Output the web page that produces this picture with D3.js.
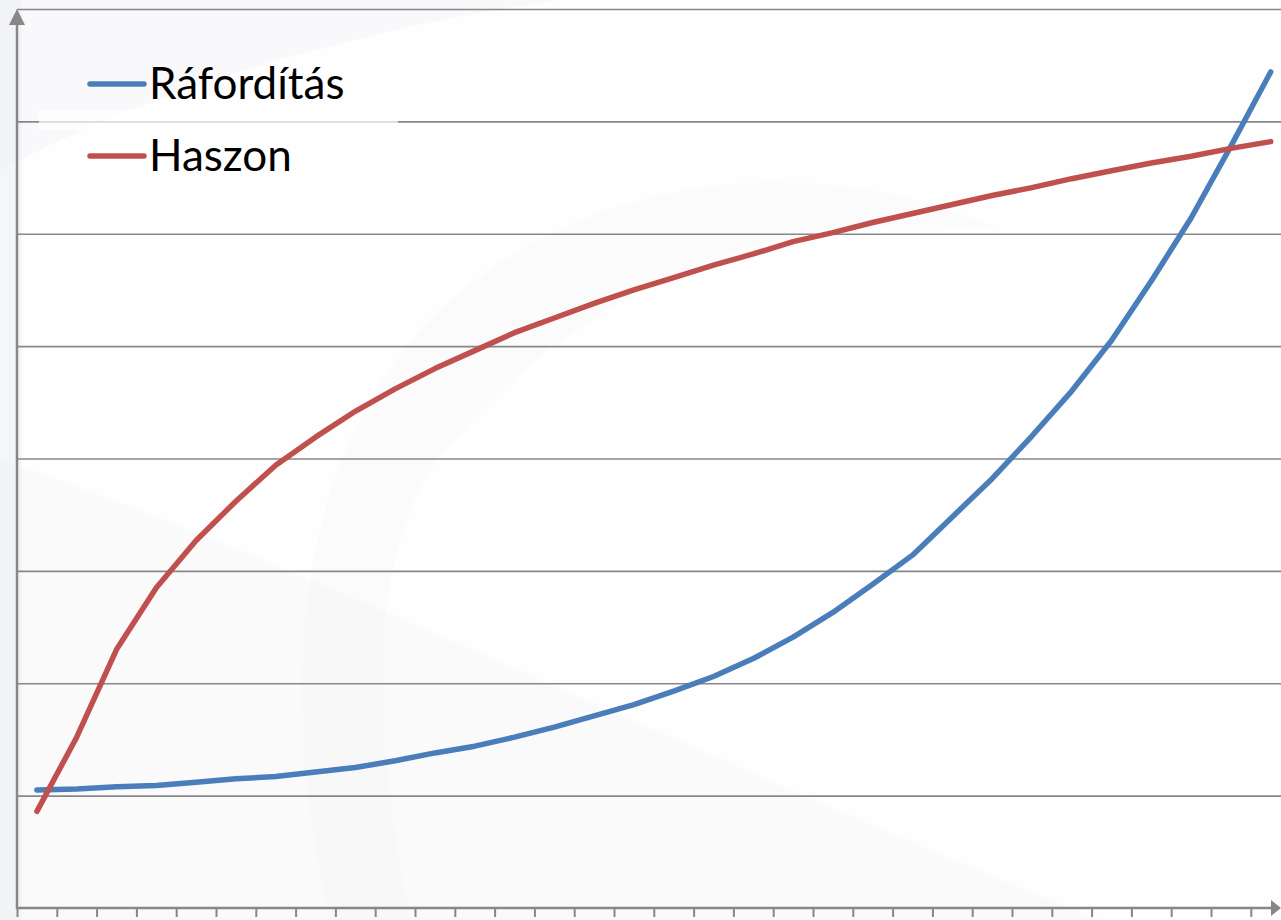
<!DOCTYPE html>
<html lang="hu">
<head>
    <meta charset="UTF-8">
    <title>Ráfordítás és haszon</title>
    <script src="https://cdn.jsdelivr.net/npm/d3@7"></script>
    <style>
        html, body {
            margin: 0;
            padding: 0;
            background: #ffffff;
        }
        #chart svg {
            display: block;
        }
    </style>
</head>
<body>
    <div id="chart"></div>

    <script>
        // Adatok (az ábráról leolvasva)
        const categories = d3.range(1, 33);
        const raforditas = [1.05, 1.06, 1.08, 1.09, 1.12, 1.15, 1.17, 1.21, 1.25, 1.31, 1.38,
            1.44, 1.52, 1.61, 1.71, 1.81, 1.93, 2.06, 2.22, 2.41, 2.63, 2.88, 3.14, 3.48,
            3.82, 4.20, 4.60, 5.05, 5.58, 6.14, 6.78, 7.44];
        const haszon = [0.86, 1.52, 2.30, 2.85, 3.27, 3.62, 3.94, 4.19, 4.42, 4.62, 4.80,
            4.96, 5.12, 5.25, 5.38, 5.50, 5.61, 5.72, 5.82, 5.93, 6.01, 6.10, 6.18, 6.26,
            6.34, 6.41, 6.49, 6.56, 6.63, 6.69, 6.76, 6.82];
        const yTicks = [1, 2, 3, 4, 5, 6, 7, 8];
        const seriesNames = ["Ráfordítás", "Haszon"];

        const width = 1281;
        const height = 920;
        const axisColor = "#878787";
        const colors = ["#4a7ebb", "#c0504d"];

        const svg = d3.select("#chart")
            .append("svg")
            .attr("width", width)
            .attr("height", height);

        // halvány háttér-ívek
        const bg = svg.append("g");
        bg.append("rect").attr("width", width).attr("height", height).attr("fill", "#fefefe");
        bg.append("path")
            .attr("d", "M0,0 L0,460 C300,560 700,760 1100,920 L0,920 Z")
            .attr("fill", "#eef0f4").attr("opacity", 0.25);
        bg.append("path")
            .attr("d", "M0,170 C150,90 350,30 560,0 L0,0 Z")
            .attr("fill", "#eef0f4").attr("opacity", 0.3);
        bg.append("path")
            .attr("d", "M330,920 C280,700 290,480 420,330 C560,180 800,140 1000,230 C760,200 560,300 430,470 C360,590 380,760 410,920 Z")
            .attr("fill", "#eef0f4").attr("opacity", 0.2);
        bg.append("rect").attr("x", 0).attr("width", 22).attr("height", height)
            .attr("fill", "#eceef2").attr("opacity", 0.5);

        const x0 = 17;
        const step = 39.8;

        const x = d3.scaleBand()
            .domain(categories)
            .range([x0, x0 + step * categories.length])
            .padding(0);

        const xEdge = d3.scaleLinear()
            .domain([0, categories.length])
            .range([x0, x0 + step * categories.length]);

        const y = d3.scaleLinear()
            .domain([0, 8])
            .range([908, 9]);

        // rácsvonalak
        svg.append("g")
            .attr("transform", `translate(${x0},0)`)
            .call(d3.axisLeft(y).tickValues(yTicks).tickSize(-(width - x0)).tickFormat(""))
            .call(g => g.select(".domain").remove())
            .call(g => g.selectAll(".tick line")
                .attr("stroke", axisColor)
                .attr("stroke-width", 1.6));

        // jelmagyarázat háttere (csak a rácsvonalat halványítja)
        svg.append("rect")
            .attr("x", 39)
            .attr("y", 110)
            .attr("width", 359)
            .attr("height", 20)
            .attr("fill", "#ffffff")
            .attr("opacity", 0.7);

        // vízszintes tengely osztásokkal
        svg.append("g")
            .attr("transform", `translate(0,${y(0)})`)
            .call(d3.axisBottom(xEdge).tickValues(d3.range(0, categories.length + 1)).tickSize(9).tickFormat(""))
            .call(g => g.select(".domain").remove())
            .call(g => g.selectAll(".tick line")
                .attr("stroke", axisColor)
                .attr("stroke-width", 2));

        svg.append("line")
            .attr("x1", x0).attr("x2", width - 8)
            .attr("y1", y(0)).attr("y2", y(0))
            .attr("stroke", axisColor)
            .attr("stroke-width", 2.5);
        svg.append("path")
            .attr("d", `M${width},${y(0)} L${width - 10},${y(0) - 8} L${width - 10},${y(0) + 8} Z`)
            .attr("fill", axisColor);

        // függőleges tengely nyíllal
        svg.append("line")
            .attr("x1", x0).attr("x2", x0)
            .attr("y1", y(0) + 1).attr("y2", 22)
            .attr("stroke", axisColor)
            .attr("stroke-width", 2.5);
        svg.append("path")
            .attr("d", `M${x0},9 L${x0 - 8},25 L${x0 + 8},25 Z`)
            .attr("fill", axisColor);

        // adatsorok
        const line = d3.line()
            .x((d, i) => x(categories[i]) + x.bandwidth() / 2)
            .y(d => y(d));

        [raforditas, haszon].forEach((values, k) => {
            svg.append("path")
                .datum(values)
                .attr("fill", "none")
                .attr("stroke", colors[k])
                .attr("stroke-width", 5.5)
                .attr("stroke-linecap", "round")
                .attr("stroke-linejoin", "round")
                .attr("d", line);
        });

        // jelmagyarázat
        const legend = svg.append("g")
            .attr("font-family", "Lato, 'Open Sans', sans-serif")
            .attr("font-size", 44);

        seriesNames.forEach((name, k) => {
            const ly = 84 + k * 72;
            legend.append("line")
                .attr("x1", 90).attr("x2", 144)
                .attr("y1", ly).attr("y2", ly)
                .attr("stroke", colors[k])
                .attr("stroke-width", 5.5)
                .attr("stroke-linecap", "round");
            legend.append("text")
                .attr("x", 149)
                .attr("y", ly + 15)
                .attr("fill", "#000")
                .text(name);
        });
    </script>
</body>
</html>
